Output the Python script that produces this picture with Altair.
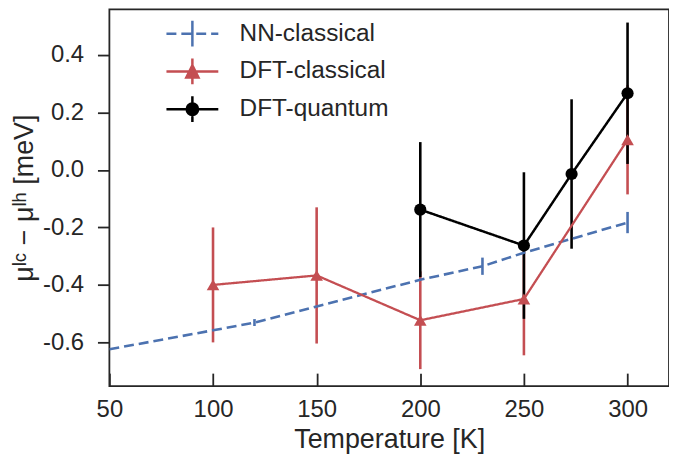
import altair as alt
import pandas as pd

# ---------------- data ----------------
series_names = ["NN-classical", "DFT-classical", "DFT-quantum"]
series_colors = ["#4c72b0", "#c44e52", "#000000"]

nn_T = [50, 100, 120, 150, 200, 230, 250, 300]
nn_mu = [-0.624, -0.558, -0.531, -0.475, -0.382, -0.335, -0.288, -0.183]
nn_err_T = [120, 230, 300]
nn_err_mu = [-0.531, -0.335, -0.183]
nn_err = [0.012, 0.030, 0.037]

dftc_T = [100, 150, 200, 250, 300]
dftc_mu = [-0.400, -0.367, -0.523, -0.449, 0.105]
dftc_err = [0.200, 0.237, 0.170, 0.196, 0.190]

dftq_T = [200, 250, 273, 300]
dftq_mu = [-0.138, -0.263, -0.014, 0.267]
dftq_err = [0.235, 0.255, 0.260, 0.246]

x_ticks = [50, 100, 150, 200, 250, 300]
y_ticks = [-0.6, -0.4, -0.2, 0.0, 0.2, 0.4]

# legend glyphs: line + error bar + marker (custom SVG paths, unit scale)
legend_paths = [
    "M-1.41,0H-0.87M-0.6,0H-0.06M0.21,0H0.75M1.02,0H1.41M0,-0.7V0.7",
    "M-1.41,0H1.41M0,-0.7V0.7M0,-0.33L0.33,0.33L-0.33,0.33Z",
    "M-1.41,0H1.41M0,-0.7V0.7M0.31,0A0.31,0.31 0 1,1 -0.31,0A0.31,0.31 0 1,1 0.31,0Z",
]

# ---------------- tables ----------------
lines_df = pd.concat([
    pd.DataFrame({"series": series_names[0], "T": nn_T, "mu": nn_mu}),
    pd.DataFrame({"series": series_names[1], "T": dftc_T, "mu": dftc_mu}),
    pd.DataFrame({"series": series_names[2], "T": dftq_T, "mu": dftq_mu}),
], ignore_index=True)

err_df = pd.concat([
    pd.DataFrame({"series": series_names[0], "T": nn_err_T, "mu": nn_err_mu, "err": nn_err}),
    pd.DataFrame({"series": series_names[1], "T": dftc_T, "mu": dftc_mu, "err": dftc_err}),
    pd.DataFrame({"series": series_names[2], "T": dftq_T, "mu": dftq_mu, "err": dftq_err}),
], ignore_index=True)
err_df["lo"] = err_df["mu"] - err_df["err"]
err_df["hi"] = err_df["mu"] + err_df["err"]

legend_df = pd.DataFrame({"series": series_names, "T": [None] * 3, "mu": [None] * 3})

FONT = "Liberation Sans"
INK = "#262626"
YTITLE = "μˡᶜ − μˡʰ [meV]"

x_scale = alt.Scale(domain=[50, 320], nice=False, zero=False)
y_scale = alt.Scale(domain=[-0.752, 0.559], nice=False, zero=False)

x_axis = alt.Axis(values=x_ticks, offset=-13, tickSize=13, domain=False, grid=False,
                  labelPadding=12, titlePadding=5, labelFontSize=24, titleFontSize=27,
                  labelFlush=False, titleFontWeight="normal", labelFont=FONT, titleFont=FONT,
                  labelColor=INK, titleColor=INK, tickColor=INK, tickWidth=1.8)
y_axis = alt.Axis(values=y_ticks, tickSize=12, domain=False, grid=False,
                  labelPadding=14, titleX=-71, labelFontSize=24, titleFontSize=27,
                  titleFontWeight="normal", labelFont=FONT, titleFont=FONT,
                  labelColor=INK, titleColor=INK, tickColor=INK, tickWidth=1.8,
                  labelExpr="datum.value < 0 ? '-' + format(-datum.value, '.1f') : format(datum.value, '.1f')")


def xenc():
    return alt.X("T:Q", scale=x_scale, axis=x_axis, title="Temperature [K]")


def yenc(field="mu"):
    return alt.Y(f"{field}:Q", scale=y_scale, axis=y_axis, title=YTITLE)


def col_of(name):
    return series_colors[series_names.index(name)]


layers = []

# error bars
for name in series_names:
    layers.append(
        alt.Chart(err_df).transform_filter(alt.datum.series == name)
        .mark_rule(color=col_of(name), strokeWidth=2.6)
        .encode(x=xenc(), y=yenc("lo"), y2="hi:Q")
    )

# lines
for name, dash, w in zip(series_names, [[10, 5], [1, 0], [1, 0]], [2.6, 2.3, 2.5]):
    layers.append(
        alt.Chart(lines_df).transform_filter(alt.datum.series == name)
        .mark_line(color=col_of(name), strokeWidth=w, strokeDash=dash, clip=True)
        .encode(x=xenc(), y=yenc(), order="T:Q")
    )

# markers
layers.append(
    alt.Chart(lines_df).transform_filter(alt.datum.series == series_names[1])
    .mark_point(shape="triangle-up", filled=True, size=160, color=series_colors[1], opacity=1)
    .encode(x=xenc(), y=yenc())
)
layers.append(
    alt.Chart(lines_df).transform_filter(alt.datum.series == series_names[2])
    .mark_point(shape="circle", filled=True, size=150, color=series_colors[2], opacity=1)
    .encode(x=xenc(), y=yenc())
)

# legend carrier layer (no visible marks)
leg = alt.Legend(title=None, orient="none", legendX=63.5, legendY=4.5,
                 symbolSize=1369, symbolStrokeWidth=2.5, labelFontSize=24.5,
                 labelFont=FONT, labelColor=INK, labelOffset=27.5,
                 rowPadding=0, padding=0, symbolOpacity=1)
layers.append(
    alt.Chart(legend_df).mark_point(opacity=1).encode(
        x=xenc(), y=yenc(),
        fill=alt.Fill("series:N", scale=alt.Scale(domain=series_names, range=series_colors), legend=leg),
        stroke=alt.Stroke("series:N", scale=alt.Scale(domain=series_names, range=series_colors), legend=leg),
        shape=alt.Shape("series:N", scale=alt.Scale(domain=series_names, range=legend_paths), legend=leg),
    )
)

chart = (
    alt.layer(*layers)
    .properties(width=563, height=379, background="white",
                padding={"left": 3, "top": 0, "right": 0, "bottom": 0})
    .configure_view(stroke=INK, strokeWidth=1.8)
    .configure_axis(labelFont=FONT, titleFont=FONT, labelColor=INK, titleColor=INK,
                    tickColor=INK, tickWidth=1.8, titleFontWeight="normal")
)

chart.save("out.html", embed_options={"renderer": "svg", "actions": False})
